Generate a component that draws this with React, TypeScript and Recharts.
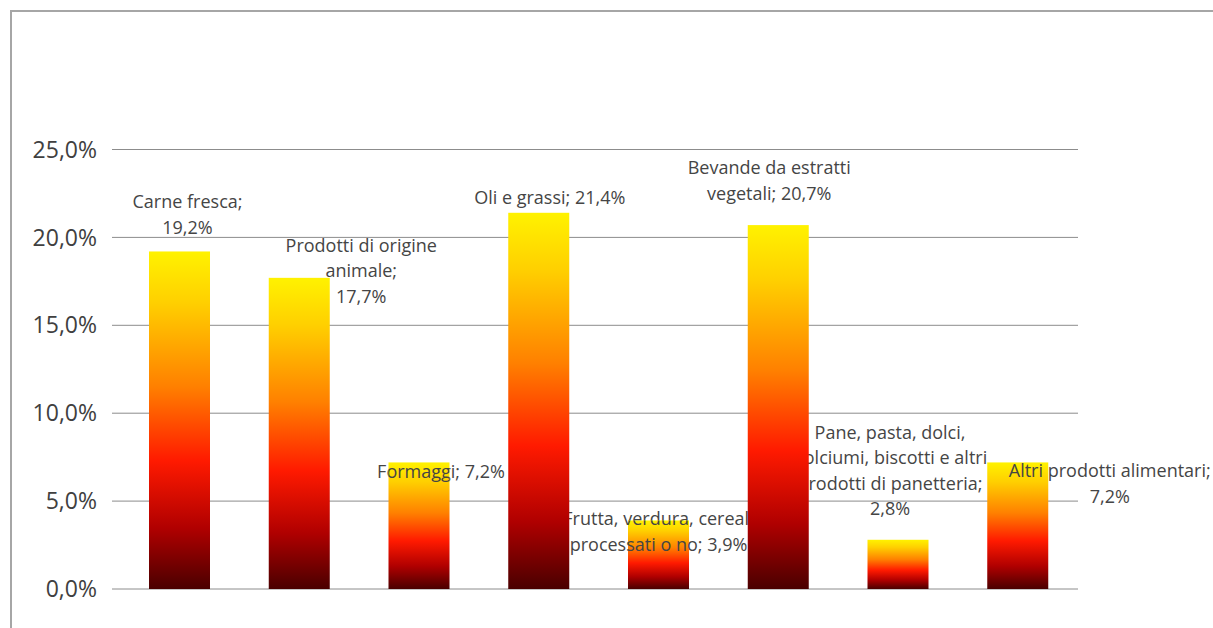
import { BarChart, Bar, XAxis, YAxis, CartesianGrid } from "recharts";

const categories = [
  "Carne fresca",
  "Prodotti di origine animale",
  "Formaggi",
  "Oli e grassi",
  "Frutta, verdura, cereali processati o no",
  "Bevande da estratti vegetali",
  "Pane, pasta, dolci, dolciumi, biscotti e altri prodotti di panetteria",
  "Altri prodotti alimentari",
];

const shares = [19.2, 17.7, 7.2, 21.4, 3.9, 20.7, 2.8, 7.2];

const yTicks = [0, 5, 10, 15, 20, 25];

// wrapped label text, {v} gets the formatted value
const labelLines = [
  ["Carne fresca;", "{v}"],
  ["Prodotti di origine", "animale;", "{v}"],
  ["Formaggi; {v}"],
  ["Oli e grassi; {v}"],
  ["Frutta, verdura, cereali", "processati o no; {v}"],
  ["Bevande da estratti", "vegetali; {v}"],
  ["Pane, pasta, dolci,", "dolciumi, biscotti e altri", "prodotti di panetteria;", "{v}"],
  ["Altri prodotti alimentari;", "{v}"],
];

// label offsets from bar top-center (hand placed like in the original)
const labelPos = [
  [8, -50],
  [62, -33],
  [22, 9],
  [11, -16],
  [0, -2],
  [-9, -58],
  [-8, -108],
  [92, 8],
];

const LINE_H = 25.5;
const FONT = "'Open Sans', 'Noto Sans', sans-serif";

const fmt = (v: number) => `${v.toFixed(1).replace(".", ",")}%`;

const data = categories.map((name, i) => ({ name, share: shares[i] }));

function LabelText({ x, y, width, index }: any) {
  const [dx, dy] = labelPos[index];
  const cx = x + width / 2 + dx;
  return (
    <g>
      {labelLines[index].map((l, k) => (
        <text
          key={k}
          x={cx}
          y={y + dy + k * LINE_H}
          textAnchor="middle"
          dominantBaseline="central"
          fontFamily={FONT}
          fontSize={18}
          fill="#454545"
        >
          {l.replace("{v}", fmt(shares[index]))}
        </text>
      ))}
    </g>
  );
}

function GradientBar(props: any) {
  const { x, y, width, height, index } = props;
  const id = `barclip${index}`;
  return (
    <g>
      <defs>
        <clipPath id={id}>
          <rect x={x} y={y} width={width} height={height} />
        </clipPath>
      </defs>
      <rect x={x} y={y} width={width} height={height} fill="url(#fireGrad)" />
      {/* own label shows on top of own bar only */}
      <g clipPath={`url(#${id})`}>
        <LabelText {...props} />
      </g>
    </g>
  );
}

export default function App() {
  return (
    <div
      style={{
        position: "absolute",
        left: 0,
        top: 0,
        width: 1213,
        height: 628,
        overflow: "hidden",
        background: "#fff",
      }}
    >
      <div
        style={{
          position: "absolute",
          left: 10,
          top: 10,
          width: 1260,
          height: 700,
          borderLeft: "2px solid #a6a6a6",
          borderTop: "2px solid #a6a6a6",
        }}
      />
      <BarChart
        width={1213}
        height={628}
        data={data}
        margin={{ top: 149.5, right: 135, bottom: 39, left: 0 }}
        barGap={-61}
        style={{ position: "absolute", left: 0, top: 0 }}
      >
        <defs>
          <linearGradient id="fireGrad" x1="0" y1="0" x2="0" y2="1">
            <stop offset="0" stopColor="#FFF200" />
            <stop offset="0.15" stopColor="#FFD000" />
            <stop offset="0.4" stopColor="#FF8000" />
            <stop offset="0.62" stopColor="#FF1A00" />
            <stop offset="0.82" stopColor="#B00000" />
            <stop offset="1" stopColor="#4A0000" />
          </linearGradient>
        </defs>
        <CartesianGrid vertical={false} stroke="#8c8c8c" />
        <XAxis dataKey="name" hide padding={{ left: 8, right: 0 }} />
        <YAxis
          width={112}
          domain={[0, 25]}
          ticks={yTicks}
          tickFormatter={fmt}
          axisLine={false}
          tickLine={false}
          tickSize={0}
          tickMargin={15}
          tick={{ fill: "#404040", fontSize: 23, fontFamily: FONT }}
        />
        {/* labels layer sits below the bars */}
        <Bar dataKey="share" barSize={61} isAnimationActive={false} shape={(p: any) => <LabelText {...p} />} />
        <Bar dataKey="share" barSize={61} isAnimationActive={false} shape={(p: any) => <GradientBar {...p} />} />
      </BarChart>
    </div>
  );
}
